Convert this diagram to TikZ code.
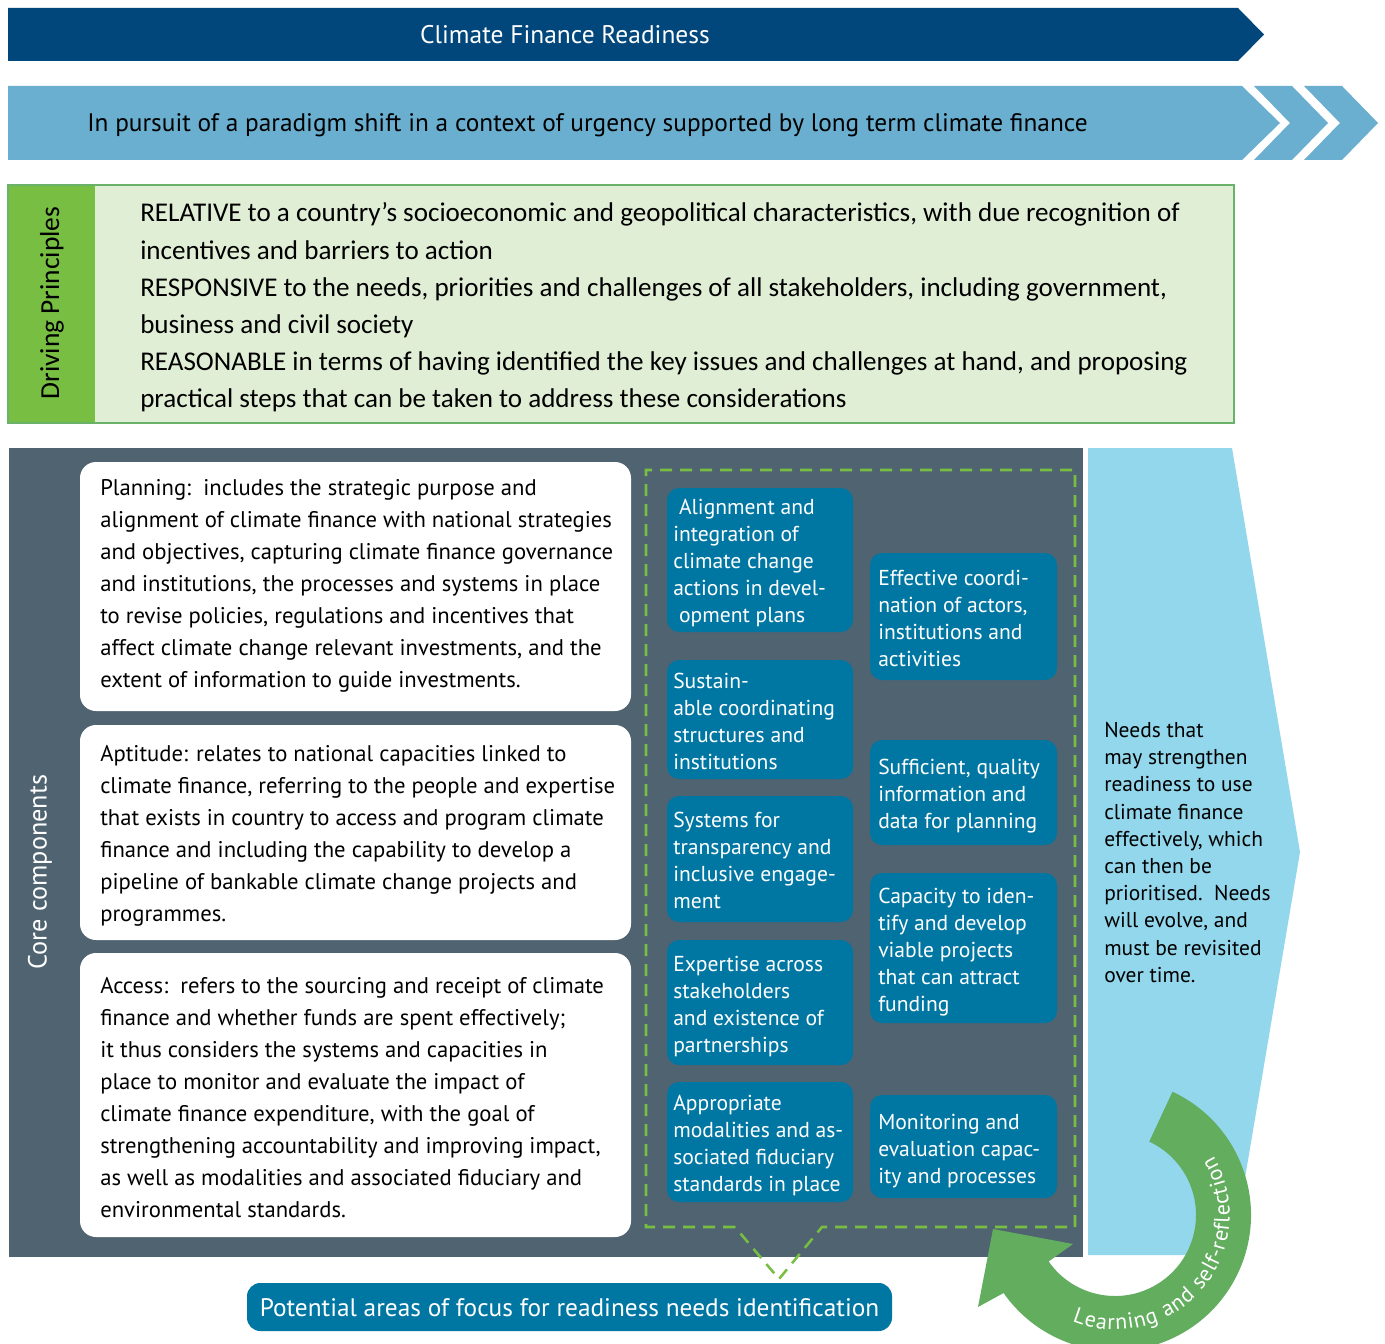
\documentclass[tikz,border=0pt]{standalone}
\usepackage{fontspec}
\setmainfont{PT Sans}
\newfontfamily\calib{Carlito}
\usetikzlibrary{calc,decorations.text}
\definecolor{navy}{HTML}{01477B}
\definecolor{barblue}{HTML}{6AAFCF}
\definecolor{stripgreen}{HTML}{77BE43}
\definecolor{boxgreen}{HTML}{E1EED6}
\definecolor{bordergreen}{HTML}{6AB26A}
\definecolor{slate}{HTML}{4F6371}
\definecolor{tealbox}{HTML}{0077A3}
\definecolor{skyblue}{HTML}{92D7EC}
\definecolor{arrowgreen}{HTML}{63AD5E}
\definecolor{dashgreen}{HTML}{77BE43}
\begin{document}
\begin{tikzpicture}[x=0.75pt,y=0.75pt,
  whitetxt/.style={anchor=north west, inner sep=0pt, align=left, font=\fontsize{17pt}{24pt}\selectfont},
  bluetxt/.style={anchor=north west, inner sep=0pt, align=left, text=white, font=\fontsize{16.2pt}{20.4pt}\selectfont},
  bluebox/.style={fill=tealbox, rounded corners=9pt},
  whitebox/.style={fill=white, rounded corners=12pt},
  dashline/.style={draw=dashgreen, line width=1.9pt, dash pattern=on 9pt off 6pt},
]
\fill[white] (0,0) rectangle (1385,-1344);
\useasboundingbox (0,0) rectangle (1385,-1344);

% top banner
\fill[navy] (8,-8) -- (1238,-8) -- (1264,-34.5) -- (1238,-61) -- (8,-61) -- cycle;
\node[text=white, font=\fontsize{19.1pt}{21pt}\selectfont] (title) at (565,-34.5) {Climate Finance Readiness};

% second banner with chevrons
\fill[barblue] (8,-86) -- (1242,-86) -- (1280,-123) -- (1242,-160) -- (8,-160) -- cycle;
\fill[barblue] (1254,-86) -- (1292,-86) -- (1328,-123) -- (1292,-160) -- (1254,-160) -- (1290,-123) -- cycle;
\fill[barblue] (1304,-86) -- (1342,-86) -- (1378,-123) -- (1342,-160) -- (1304,-160) -- (1340,-123) -- cycle;
\node[anchor=west, inner sep=0pt, font=\fontsize{19pt}{21pt}\selectfont] (pursuit) at (87,-125) {In pursuit of a paradigm shift in a context of urgency supported by long term climate finance};

% driving principles
\filldraw[fill=boxgreen, draw=bordergreen, line width=1.8pt] (8,-185) rectangle (1234,-423);
\fill[stripgreen] (9,-186) rectangle (95,-422);
\node[rotate=90, font=\calib\fontsize{20.6pt}{22pt}\selectfont] (dp) at (52,-303) {Driving Principles};
\node[anchor=north west, inner sep=0pt, align=left, font=\calib\fontsize{20.3pt}{27.9pt}\selectfont] (principles) at (140,-202.5)
{RELATIVE to a country’s socioeconomic and geopolitical characteristics, with due recognition of\\
incentives and barriers to action\\
RESPONSIVE to the needs, priorities and challenges of all stakeholders, including government,\\
business and civil society\\
REASONABLE in terms of having identified the key issues and challenges at hand, and proposing\\
practical steps that can be taken to address these considerations};

% core panel
\fill[slate] (9,-448) rectangle (1083,-1257);
\node[rotate=90, text=white, font=\fontsize{19.7pt}{21pt}\selectfont] (cc) at (40,-872) {Core components};

\fill[whitebox] (80,-462) rectangle (631,-711);
\fill[whitebox] (80,-725) rectangle (631,-940);
\fill[whitebox] (80,-953) rectangle (631,-1237);
\node[whitetxt] (planning) at (100,-479) {Planning:\ \ includes the strategic purpose and\\
alignment of climate finance with national strategies\\
and objectives, capturing climate finance governance\\
and institutions, the processes and systems in place\\
to revise policies, regulations and incentives that\\
affect climate change relevant investments, and the\\
extent of information to guide investments.};
\node[whitetxt] (aptitude) at (100,-745) {Aptitude: relates to national capacities linked to\\
climate finance, referring to the people and expertise\\
that exists in country to access and program climate\\
finance and including the capability to develop a\\
pipeline of bankable climate change projects and\\
programmes.};
\node[whitetxt] (access) at (100,-977) {Access:\ \ refers to the sourcing and receipt of climate\\
finance and whether funds are spent effectively;\\
it thus considers the systems and capacities in\\
place to monitor and evaluate the impact of\\
climate finance expenditure, with the goal of\\
strengthening accountability and improving impact,\\
as well as modalities and associated fiduciary and\\
environmental standards.};

% dashed focus area
\coordinate (vtip) at (779,-1279);
\draw[dashline] (735,-1227) -- (646,-1227) -- (646,-470) -- (1075,-470) -- (1075,-1227) -- (822,-1227) -- (vtip) -- cycle;

% blue boxes left
\fill[bluebox] (667,-488) rectangle (853,-632);
\fill[bluebox] (667,-660) rectangle (853,-779);
\fill[bluebox] (667,-796) rectangle (853,-922);
\fill[bluebox] (667,-940) rectangle (853,-1065);
\fill[bluebox] (667,-1082) rectangle (853,-1202);
% blue boxes right
\fill[bluebox] (870,-553) rectangle (1057,-680);
\fill[bluebox] (870,-740) rectangle (1057,-845);
\fill[bluebox] (870,-873) rectangle (1057,-1023);
\fill[bluebox] (870,-1095) rectangle (1057,-1198);

\node[bluetxt] (t1) at (673,-498.5) {\ Alignment and\\integration of\\climate change\\actions in devel-\\\ opment plans};
\node[bluetxt] (t2) at (673,-672.5) {Sustain-\\able coordinating\\structures and\\institutions};
\node[bluetxt] (t3) at (673,-811.5) {Systems for\\transparency and\\inclusive engage-\\ment};
\node[bluetxt] (t4) at (673,-955.5) {Expertise across\\stakeholders\\and existence of\\partnerships};
\node[bluetxt] (t5) at (673,-1094.5) {Appropriate\\modalities and as-\\sociated fiduciary\\standards in place};
\node[bluetxt] (r1) at (878,-569.5) {Effective coordi-\\nation of actors,\\institutions and\\activities};
\node[bluetxt] (r2) at (878,-758.5) {Sufficient, quality\\information and\\data for planning};
\node[bluetxt] (r3) at (878,-887.5) {Capacity to iden-\\tify and develop\\viable projects\\that can attract\\funding};
\node[bluetxt] (r4) at (878,-1113.5) {Monitoring and\\evaluation capac-\\ity and processes};

% potential areas box
\fill[tealbox, rounded corners=10pt] (247,-1283) rectangle (892,-1331);
\node[text=white, font=\fontsize{19pt}{21pt}\selectfont] (potential) at (569.5,-1308) {Potential areas of focus for readiness needs identification};

% sky blue needs shape
\fill[skyblue] (1088,-448) -- (1232,-448) -- (1300,-852) -- (1232,-1255) -- (1088,-1255) -- cycle;
\node[anchor=north west, inner sep=0pt, align=left, font=\fontsize{16.1pt}{20.4pt}\selectfont] (needs) at (1104,-722)
{Needs that\\may strengthen\\readiness to use\\climate finance\\effectively, which\\can then be\\prioritised.\ \ Needs\\will evolve, and\\must be revisited\\over time.};

% learning arrow
\coordinate (c) at (1115,-1215);
\fill[arrowgreen] ($(c)+(65:102pt)$) arc[start angle=65, end angle=-145, radius=102pt]
  -- (978,-1307) -- (993,-1229) -- (1073,-1244)
  -- ($(c)+(-145:60.75pt)$) arc[start angle=-145, end angle=65, radius=60.75pt] -- cycle;
\path[decorate, decoration={text along path, text color=white, text align={fit to path},
  text={|\fontsize{16.5pt}{16.5pt}\selectfont|Learning and self-reflection}}]
  ($(c)+(-112:86pt)$) arc[start angle=-112, end angle=31, radius=86pt];
\end{tikzpicture}
\end{document}
